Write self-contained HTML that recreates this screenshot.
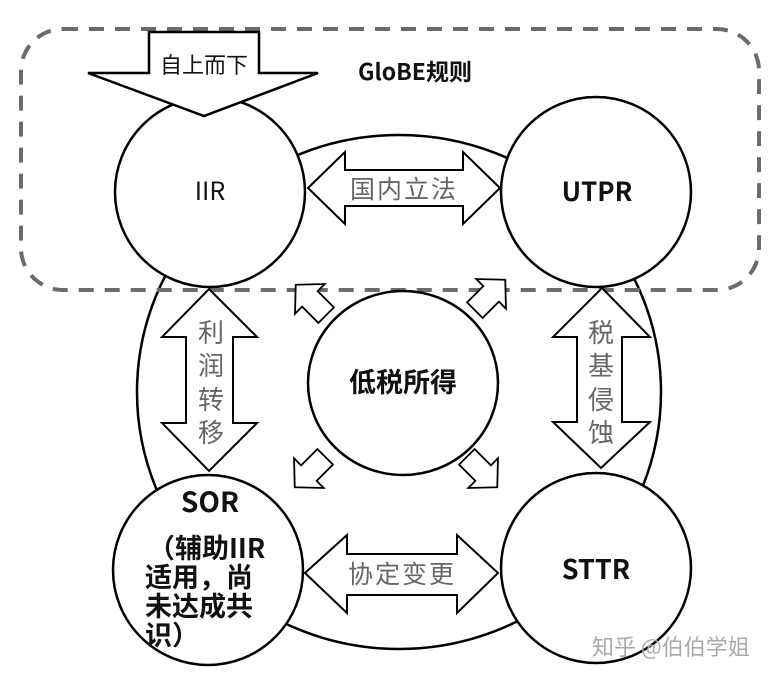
<!DOCTYPE html>
<html><head><meta charset="utf-8"><style>
html,body{margin:0;padding:0;background:#fff;}
svg{display:block;}
text{font-family:"Noto Sans CJK SC","Liberation Sans",sans-serif;}
</style></head><body>
<svg width="776" height="677" viewBox="0 0 776 677" xmlns="http://www.w3.org/2000/svg">
<defs>
<polygon id="sa" points="0,-23 21,-3 11,-3 11,20 -11,20 -11,-3 -21,-3" fill="#fff" stroke="#000" stroke-width="1.8"/>
</defs>
<ellipse cx="399" cy="392" rx="262" ry="257" fill="#fff" stroke="#000" stroke-width="2.5"/>
<rect x="21" y="29" width="738" height="261" rx="42" fill="none" stroke="#6b6b6b" stroke-width="4" stroke-dasharray="15,11"/>
<circle cx="210" cy="192" r="95" fill="#fff" stroke="#000" stroke-width="2.5"/>
<circle cx="596" cy="192" r="95" fill="#fff" stroke="#000" stroke-width="2.5"/>
<circle cx="208" cy="570" r="95" fill="#fff" stroke="#000" stroke-width="2.5"/>
<circle cx="596" cy="568" r="95" fill="#fff" stroke="#000" stroke-width="2.5"/>
<ellipse cx="403" cy="383" rx="95" ry="92" fill="#fff" stroke="#000" stroke-width="2.5"/>
<polygon points="149,32 259,32 259,73 318,73 204,116 88,73 149,73" fill="#fff" stroke="#000" stroke-width="2.5"/>
<polygon points="308,188 345,152 345,170 463,170 463,152 500,188 463,224 463,206 345,206 345,224" fill="#fff" stroke="#000" stroke-width="2"/>
<polygon points="305,573 347,535 347,554 457,554 457,535 498,573 457,613 457,595 347,595 347,613" fill="#fff" stroke="#000" stroke-width="2"/>
<polygon points="209,289 257,337 233,337 233,423 257,423 209,471 162,423 186,423 186,337 162,337" fill="#fff" stroke="#000" stroke-width="2"/>
<polygon points="602,288 650,337 622,337 622,422 650,422 601,468 553,422 577,422 577,337 553,337" fill="#fff" stroke="#000" stroke-width="2"/>
<use href="#sa" transform="translate(312,301) rotate(-45)"/>
<use href="#sa" transform="translate(489,296) rotate(45)"/>
<use href="#sa" transform="translate(311,471) rotate(-135)"/>
<use href="#sa" transform="translate(481,471) rotate(135)"/>
<text x="204" y="73" font-size="22" text-anchor="middle" fill="#111">自上而下</text>
<text x="358" y="80" font-size="23" font-weight="bold" fill="#111">GloBE规则</text>
<text x="210" y="200" font-size="25" text-anchor="middle" fill="#111">IIR</text>
<text x="597" y="201" font-size="26" font-weight="bold" text-anchor="middle" fill="#111">UTPR</text>
<text x="404" y="198" font-size="25" text-anchor="middle" fill="#666" letter-spacing="2">国内立法</text>
<text x="403" y="392" font-size="27" font-weight="bold" text-anchor="middle" fill="#111">低税所得</text>
<text x="402" y="583" font-size="25" text-anchor="middle" fill="#666" letter-spacing="2">协定变更</text>
<text x="596" y="579" font-size="27" font-weight="bold" text-anchor="middle" fill="#111">STTR</text>
<g font-size="26" fill="#666" text-anchor="middle">
<text x="211" y="342">利</text><text x="211" y="375">润</text><text x="211" y="409">转</text><text x="211" y="442">移</text>
<text x="601" y="342">税</text><text x="601" y="375">基</text><text x="601" y="409">侵</text><text x="601" y="442">蚀</text>
</g>
<text x="210" y="512" font-size="28" font-weight="bold" text-anchor="middle" fill="#111">SOR</text>
<g font-size="27" font-weight="bold" fill="#111">
<text x="148" y="558">（辅助IIR</text>
<text x="145" y="587">适用，尚</text>
<text x="145" y="616">未达成共</text>
<text x="145" y="645">识）</text>
</g>
<text x="592" y="655" font-size="22" fill="#aaa">知乎 @伯伯学姐</text>
</svg>
</body></html>
